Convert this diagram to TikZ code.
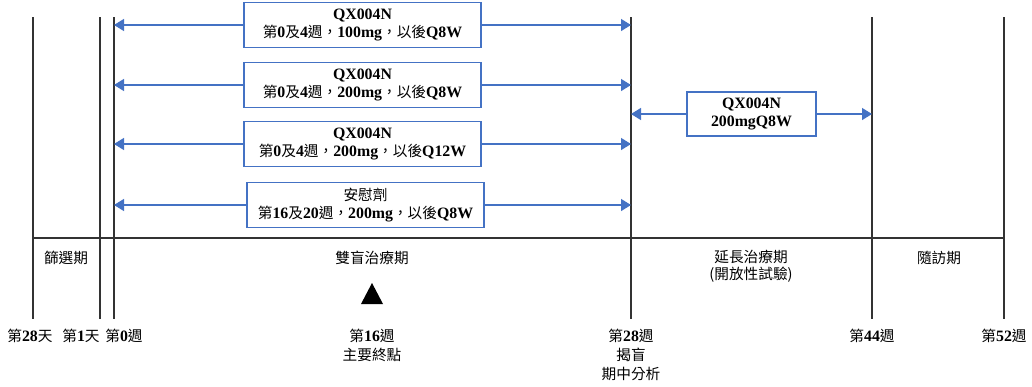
\documentclass[tikz,border=0pt]{standalone}
\usepackage{fontspec}
\setmainfont{Liberation Serif}[Scale=1.08, UprightFont=*-Bold]
\newfontfamily\cjk{Noto Sans CJK TC}
\usepackage{xcolor}
\usetikzlibrary{arrows.meta,positioning}
\definecolor{armblue}{HTML}{4472C4}
\definecolor{barline}{HTML}{333333}
\newcommand\zh[1]{{\cjk #1}}

\begin{document}
\begin{tikzpicture}[
    x=0.75pt, y=-0.75pt,
    dose/.style={draw=armblue, line width=0.8pt, fill=white, minimum width=177.75pt,
                 minimum height=33.75pt, inner sep=1pt, align=center,
                 font=\fontsize{11}{13.5}\selectfont},
    phase/.style={inner sep=0pt, align=center, font=\fontsize{11}{13}\selectfont},
    milestone/.style={inner sep=0pt, align=center, font=\fontsize{11}{14}\selectfont},
    arm/.style={-{Triangle[length=7.5pt,width=9pt]}, draw=armblue, line width=1pt},
    bar/.style={draw=barline, line width=1.1pt}
]
\useasboundingbox (0,0) rectangle (1032,386);

% Timeline
\foreach \name/\x in {s28/33, d1/100, w0/114, w28/631, w44/872, w52/1004} {
  \coordinate (\name) at (\x,17);
  \draw[bar] (\name) -- (\x,319);
}
\draw[bar] (33,238) -- (1004,238);

% Treatment arms
\node[dose] (a1) at (362.5,25) {QX004N\\\zh{第}0\zh{及}4\zh{週，}100mg\zh{，以後}Q8W};
\node[dose] (a2) at (362.5,85) {QX004N\\\zh{第}0\zh{及}4\zh{週，}200mg\zh{，以後}Q8W};
\node[dose] (a3) at (362.5,144) {QX004N\\\zh{第}0\zh{及}4\zh{週，}200mg\zh{，以後}Q12W};
\node[dose] (a4) at (365.5,205) {\zh{安慰劑}\\\zh{第}16\zh{及}20\zh{週，}200mg\zh{，以後}Q8W};

\foreach \arm in {a1,a2,a3,a4} {
  \draw[arm] (\arm.west) -- (\arm.west -| w0);
  \draw[arm] (\arm.east) -- (\arm.east -| w28);
}

% Extension
\node[dose, minimum width=96.75pt, minimum height=33pt] (ext) at (751.5,114) {QX004N\\200mgQ8W};
\draw[arm] (ext.west) -- (ext.west -| w28);
\draw[arm] (ext.east) -- (ext.east -| w44);

% Periods
\node[phase] (screen) at (66,258) {\zh{篩選期}};
\node[phase] (blind) at (372,258) {\zh{雙盲治療期}};
\node[phase] (open) at (751,266.5) {\zh{延長治療期}\\\zh{(開放性試驗)}};
\node[phase] (follow) at (939,258) {\zh{隨訪期}};
\fill (372,283) -- (383,304) -- (361,304) -- cycle;

% Milestones
\node[milestone] (m1) at (30,336) {\zh{第}28\zh{天}};
\node[milestone] (m2) at (81,336) {\zh{第}1\zh{天}};
\node[milestone] (m3) at (124,336) {\zh{第}0\zh{週}};
\node[milestone] (m4) at (372,345.5) {\zh{第}16\zh{週}\\\zh{主要終點}};
\node[milestone] (m5) at (631,355) {\zh{第}28\zh{週}\\\zh{揭盲}\\\zh{期中分析}};
\node[milestone] (m6) at (872,336) {\zh{第}44\zh{週}};
\node[milestone] (m7) at (1004,336) {\zh{第}52\zh{週}};

\end{tikzpicture}
\end{document}
